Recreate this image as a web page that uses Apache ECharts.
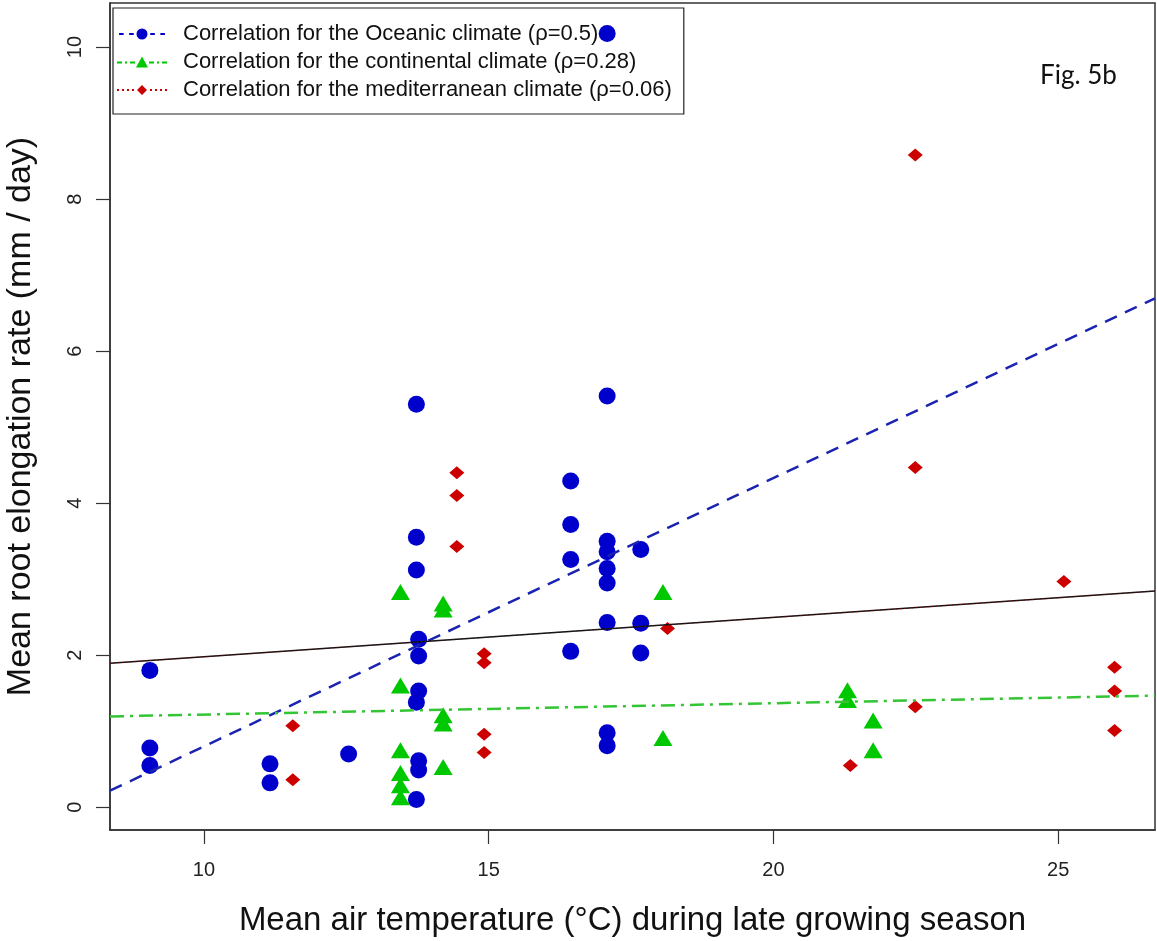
<!DOCTYPE html>
<html>
<head>
<meta charset="utf-8">
<script src="https://cdn.jsdelivr.net/npm/echarts@6/dist/echarts.min.js"></script>
<style>
  html, body { margin: 0; padding: 0; background: #fff; }
  #main { width: 1157px; height: 941px; }
</style>
</head>
<body>
<div id="main"></div>
<script>
// points: [temperature, elongation rate]
var oceanicPoints = [
  [9.05, 1.80], [9.05, 0.78], [9.05, 0.55],
  [11.16, 0.57], [11.16, 0.32],
  [12.54, 0.70],
  [13.73, 5.30], [13.73, 3.55], [13.73, 3.12], [13.77, 2.21], [13.77, 1.99],
  [13.77, 1.53], [13.73, 1.38], [13.77, 0.61], [13.77, 0.49], [13.73, 0.10],
  [16.44, 4.29], [16.44, 3.72], [16.44, 3.26], [16.44, 2.05],
  [17.08, 10.18], [17.08, 5.41], [17.08, 3.50], [17.08, 3.36], [17.08, 3.14],
  [17.08, 2.95], [17.08, 2.43], [17.08, 0.98], [17.08, 0.81],
  [17.67, 3.39], [17.67, 2.42], [17.67, 2.03]
];
var continentalPoints = [
  [13.45, 2.83], [14.20, 2.68], [14.20, 2.60], [13.45, 1.60], [14.20, 1.21],
  [14.20, 1.10], [13.45, 0.75], [13.45, 0.45], [13.45, 0.29], [13.45, 0.13],
  [14.20, 0.53], [18.06, 2.83], [18.06, 0.91], [21.30, 1.54], [21.30, 1.41],
  [21.75, 1.14], [21.75, 0.75]
];
var mediterraneanPoints = [
  [11.56, 1.07], [11.56, 0.36], [14.44, 4.40], [14.44, 4.10], [14.44, 3.43],
  [14.92, 2.02], [14.92, 1.90], [14.92, 0.96], [14.92, 0.72], [18.14, 2.35],
  [21.35, 0.55], [22.49, 8.58], [22.49, 4.47], [22.49, 1.32], [25.10, 2.97],
  [25.99, 1.84], [25.99, 1.53], [25.99, 1.01]
];

var seriesNames = [
  'Correlation for the Oceanic climate (\u03c1=0.5)',
  'Correlation for the continental climate (\u03c1=0.28)',
  'Correlation for the mediterranean climate (\u03c1=0.06)'
];
// regression lines: oceanic, continental, mediterranean/overall
var fitIntercept = [-2.73, 1.07, 1.46];
var fitSlope = [0.353, 0.0149, 0.0518];

var xTicks = [10, 15, 20, 25];
var yTicks = [0, 2, 4, 6, 8, 10];
var xRange = [8.35, 26.7];
var yRange = [-0.3, 10.58];

function fitLine(i) {
  return xRange.map(function (x) {
    return [x, fitIntercept[i] + fitSlope[i] * x];
  });
}

// legend icons: line style - symbol - line style
var iconOceanic = 'path://M0,5h5v2h-5z M11,5h5v2h-5z M19,6a6,6 0 1,0 12,0a6,6 0 1,0 -12,0z M34,5h5v2h-5z M45,5h5v2h-5z';
var iconContinental = 'path://M0,5h5v2h-5z M8,5h2v2h-2z M13,5h5v2h-5z M19,11L25,0L31,11z M32,5h5v2h-5z M40,5h2v2h-2z M45,5h5v2h-5z';
var iconMediterranean = 'path://M0,5h2v2h-2z M5,5h2v2h-2z M10,5h2v2h-2z M15,5h2v2h-2z M20,6L25,1L30,6L25,11z M33,5h2v2h-2z M38,5h2v2h-2z M43,5h2v2h-2z M48,5h2v2h-2z';

var chart = echarts.init(document.getElementById('main'));

var axisFont = { fontFamily: 'Liberation Sans', fontSize: 20, color: '#222' };

var option = {
  animation: false,
  backgroundColor: '#fff',
  grid: {
    left: 110, right: 2, top: 3, bottom: 111,
    outerBoundsMode: 'none', containLabel: false,
    show: true, borderColor: '#333', borderWidth: 1.5
  },
  legend: {
    orient: 'vertical',
    left: 113, top: 8,
    padding: [14, 12, 12, 4],
    itemGap: 4,
    itemWidth: 50, itemHeight: 11,
    borderColor: '#222', borderWidth: 1.2,
    z: 1,
    textStyle: {
      fontFamily: 'Liberation Sans', fontSize: 22, color: '#111',
      lineHeight: 24, padding: [0, 0, 0, 11]
    },
    data: [
      { name: seriesNames[0], icon: iconOceanic, itemStyle: { color: '#0000CD' } },
      { name: seriesNames[1], icon: iconContinental, itemStyle: { color: '#00C800' } },
      { name: seriesNames[2], icon: iconMediterranean, itemStyle: { color: '#CD0000' } }
    ]
  },
  graphic: [{
    type: 'text', left: 1040, top: 63,
    style: { text: 'Fig. 5b', font: '26px Lato', fill: '#111' }
  }],
  xAxis: {
    type: 'value', min: xRange[0], max: xRange[1],
    name: 'Mean air temperature (\u00b0C) during late growing season',
    nameLocation: 'middle', nameGap: 74,
    nameTextStyle: { fontFamily: 'Liberation Sans', fontSize: 33, color: '#111' },
    axisLine: { show: true, onZero: false, lineStyle: { color: '#333', width: 1.5 } },
    axisTick: { show: true, length: 14, customValues: xTicks, lineStyle: { color: '#333', width: 1.2 } },
    axisLabel: Object.assign({ margin: 30, customValues: xTicks }, axisFont),
    splitLine: { show: false }
  },
  yAxis: {
    type: 'value', min: yRange[0], max: yRange[1],
    name: 'Mean root elongation rate (mm / day)',
    nameLocation: 'middle', nameGap: 72,
    nameTextStyle: { fontFamily: 'Liberation Sans', fontSize: 34, color: '#111' },
    axisLine: { show: true, onZero: false, lineStyle: { color: '#333', width: 1.5 } },
    axisTick: { show: true, length: 14, customValues: yTicks, lineStyle: { color: '#333', width: 1.2 } },
    axisLabel: Object.assign({ margin: 25, rotate: 90, customValues: yTicks }, axisFont),
    splitLine: { show: false }
  },
  series: [
    {
      name: seriesNames[0], type: 'scatter', data: oceanicPoints,
      symbol: 'circle', symbolSize: 17,
      itemStyle: { color: '#0000CD', opacity: 1 }, z: 3
    },
    {
      name: seriesNames[1], type: 'scatter', data: continentalPoints,
      symbol: 'triangle', symbolSize: [19, 16],
      itemStyle: { color: '#00C800', opacity: 1 }, z: 3
    },
    {
      name: seriesNames[2], type: 'scatter', data: mediterraneanPoints,
      symbol: 'diamond', symbolSize: [15, 13],
      itemStyle: { color: '#CD0000', opacity: 1 }, z: 3
    },
    {
      name: 'fit-oceanic', type: 'line', data: fitLine(0), symbol: 'none', z: 4,
      lineStyle: { color: '#1a24b0', width: 2.5, type: [13, 9] }
    },
    {
      name: 'fit-continental', type: 'line', data: fitLine(1), symbol: 'none', z: 4,
      lineStyle: { color: '#33c533', width: 2.5, type: [14, 6, 3, 6] }
    },
    {
      name: 'fit-overall', type: 'line', data: fitLine(2), symbol: 'none', z: 4,
      lineStyle: { color: '#111', width: 1.5 }
    },
    {
      name: 'fit-mediterranean', type: 'line', data: fitLine(2), symbol: 'none', z: 5,
      lineStyle: { color: '#7a1010', width: 1, type: [1, 3] }
    }
  ]
};

chart.setOption(option);
</script>
</body>
</html>
